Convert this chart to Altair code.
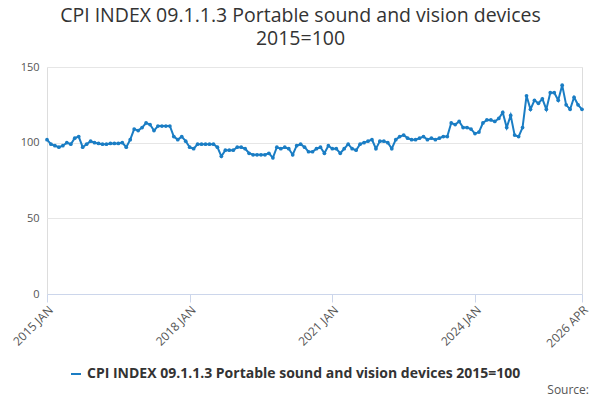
import altair as alt
import pandas as pd

SERIES = "CPI INDEX 09.1.1.3 Portable sound and vision devices 2015=100"
MONTHS = ["JAN", "FEB", "MAR", "APR", "MAY", "JUN", "JUL", "AUG", "SEP", "OCT", "NOV", "DEC"]

v2015 = [102, 99, 98, 97, 98, 100, 99, 103, 104, 97, 99, 101]
v2016 = [100, 99.5, 99, 99, 99.5, 99.5, 99.5, 100, 97, 102, 109, 108]
v2017 = [110, 113, 112, 108, 111, 111, 111, 111, 104, 102, 104, 101]
v2018 = [97, 96, 99, 99, 99, 99, 99, 97, 91, 95, 95, 95]
v2019 = [97, 97, 96, 93, 92, 92, 92, 92, 93, 90, 97, 96]
v2020 = [97, 96, 92, 98, 99, 97, 94, 94, 96, 97, 93, 98]
v2021 = [96, 96, 93, 96, 99, 96, 95, 99, 100, 101, 102, 96]
v2022 = [101, 101, 100, 96, 102, 104, 105, 103, 102, 102, 103, 104]
v2023 = [102, 103, 102, 103, 104, 104, 113, 112, 114, 110, 110, 109]
v2024 = [106, 107, 113, 115, 115, 114, 116, 120, 110, 118, 105, 104]
v2025 = [110, 131, 122, 128, 126, 129, 122, 133, 133, 128, 138, 125]
v2026 = [122, 130, 125, 122]

values = v2015 + v2016 + v2017 + v2018 + v2019 + v2020 + v2021 + v2022 + v2023 + v2024 + v2025 + v2026
labels = [f"{2015 + i // 12} {MONTHS[i % 12]}" for i in range(len(values))]
tick_labels = ["2015 JAN", "2018 JAN", "2021 JAN", "2024 JAN", "2026 APR"]

df = pd.DataFrame({"month": labels, "value": values, "series": SERIES})

line = (
    alt.Chart(df)
    .mark_line(point=alt.OverlayMarkDef(size=14, filled=True), strokeWidth=2)
    .encode(
        x=alt.X(
            "month:O",
            sort=labels,
            title=None,
            scale=alt.Scale(type="point", padding=0),
            axis=alt.Axis(values=tick_labels, labelAngle=-45, labelAlign="right",
                          labelColor="#555", labelFontSize=12, domainColor="#ccd6eb",
                          tickColor="#ccd6eb", tickSize=8, grid=False),
        ),
        y=alt.Y(
            "value:Q",
            title=None,
            scale=alt.Scale(domain=[0, 150]),
            axis=alt.Axis(values=[0, 50, 100, 150], labelColor="#555", labelFontSize=11,
                          domain=False, ticks=False, gridColor="#e6e6e6", labelPadding=8),
        ),
        color=alt.Color(
            "series:N",
            scale=alt.Scale(range=["#1a7dc4"]),
            legend=alt.Legend(title=None, orient="none", legendX=22, legendY=300,
                              labelFontSize=14, labelFontWeight="bold", labelColor="#333",
                              symbolType="stroke", symbolStrokeWidth=2, labelLimit=540),
        ),
    )
)

source = (
    alt.Chart(pd.DataFrame({"t": ["Source:"]}))
    .mark_text(align="right", baseline="middle", fontSize=12, color="#555")
    .encode(x=alt.value(542), y=alt.value(323), text="t:N")
)

chart = (
    alt.layer(line, source)
    .properties(
        width=535,
        height=227,
        autosize=alt.AutoSizeParams(type="none"),
        padding={"left": 39, "top": 59, "right": 10, "bottom": 110},
        title=alt.Title(["CPI INDEX 09.1.1.3 Portable sound and vision devices", "2015=100"],
                        fontSize=19.5, fontWeight="normal", color="#333", offset=12,
                        lineHeight=23, anchor="middle", dx=-14, font="Open Sans"),
    )
    .configure_view(stroke=None)
    .configure(font="Open Sans")
)

chart.save("out.html", embed_options={"renderer": "svg", "actions": False})
